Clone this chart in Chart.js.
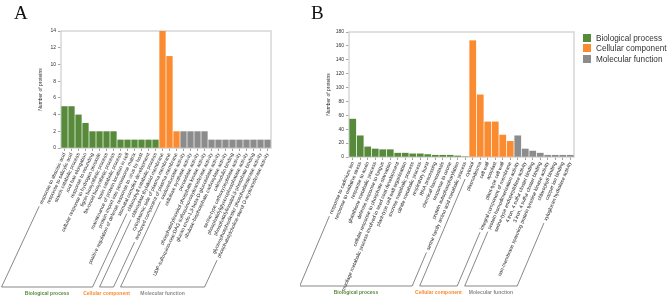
<!DOCTYPE html>
<html>
<head>
<meta charset="utf-8">
<script src="https://cdn.jsdelivr.net/npm/chart.js@4.4.0/dist/chart.umd.min.js"></script>
<style>
  body { margin: 0; background: #fff; font-family: "Liberation Sans", Arial, sans-serif; }
  #page { position: relative; width: 669px; height: 299px; overflow: hidden; }
  canvas { position: absolute; top: 0; }
  #chartA { left: 0; }
  #chartB { left: 300px; }
  .tag { position: absolute; font-family: "Liberation Serif", "Times New Roman", serif; font-size: 19px; line-height: 19px; color: #111; }
  #legend { position: absolute; left: 583px; top: 34px; font-size: 8.2px; color: #333; }
  #legend div { height: 10.3px; line-height: 10px; white-space: nowrap; }
  #legend span { display: inline-block; width: 8px; height: 8px; margin-right: 5px; vertical-align: -1px; }
</style>
</head>
<body>
<div id="page">
  <canvas id="chartA" width="300" height="299"></canvas>
  <canvas id="chartB" width="290" height="299"></canvas>
  <div class="tag" style="left:14px;top:3px">A</div>
  <div class="tag" style="left:311px;top:3px">B</div>
  <div id="legend"></div>
</div>
<script>
// ---- data: panel A ----
const bioLabelsA = ['response to abscisic acid', 'response to salicylic acid', 'starch catabolic process',
  'root hair elongation', 'response to wounding', 'cellular response to hydrogen peroxide',
  'lignin biosynthetic process', 'flavonoid biosynthetic process', 'toxin catabolic process',
  'maintenance of protein location in cell', 'protein import into peroxisome matrix',
  'positive regulation of defense response to virus by host', 'stomatal complex development',
  'chlorophyll catabolic process'];
const bioValuesA = [5, 5, 4, 3, 2, 2, 2, 2, 1, 1, 1, 1, 1, 1];
const ccLabelsA = ['chloroplast thylakoid membrane', 'cytoplasmic side of plasma membrane',
  'anchored component of plasma membrane'];
const ccValuesA = [14, 11, 2];
const mfLabelsA = ['oxidoreductase activity', 'cellulose synthase activity', 'peroxidase activity',
  'phosphatidylinositol phosphate kinase activity',
  'UDP-sulfoquinovose:DAG sulfoquinovosyltransferase activity',
  'glucan endo-1,3-beta-D-glucosidase activity', 'ribulose-bisphosphate carboxylase activity',
  'calmodulin binding', 'serine-type carboxypeptidase activity',
  'phosphatidylglycerophosphatase activity', 'phosphatidylinositol-3-phosphate binding',
  'glycerophosphodiester phosphodiesterase activity', 'phosphatidylcholine-sterol O-acyltransferase activity'];
const mfValuesA = [2, 2, 2, 2, 1, 1, 1, 1, 1, 1, 1, 1, 1];
const yMaxA = 14, yStepA = 2;

// ---- data: panel B ----
const bioLabelsB = ['response to cadmium ion', 'response to oxidative stress', 'response to auxin',
  'glutathione metabolic process', 'defense response to fungus', 'cellular response to phosphate starvation',
  'mucilage metabolic process involved in seed coat development', 'plant-type cell wall organization',
  'sucrose metabolic process', 'citrate metabolic process', 'respiratory burst', 'RNA processing',
  'chemical homeostasis', 'response to ozone', 'protein autophosphorylation',
  'serine family amino acid metabolic process'];
const bioValuesB = [55, 31, 15, 12, 11, 11, 6, 6, 5, 5, 4, 3, 3, 3, 2, 1];
const ccLabelsB = ['cytosol', 'plasmodesma', 'cell wall', 'apoplast', 'plant-type cell wall',
  'integral component of membrane'];
const ccValuesB = [168, 90, 51, 51, 32, 23];
const mfLabelsB = ['protein homodimerization activity', 'serine-type endopeptidase activity',
  '4 iron, 4 sulfur cluster binding', '3 iron, 4 sulfur cluster binding',
  'non-membrane spanning protein tyrosine kinase activity', 'chlorophyll binding',
  'copper ion binding', 'xyloglucan hydrolase activity'];
const mfValuesB = [31, 12, 9, 6, 3, 3, 3, 3];
const yMaxB = 180, yStepB = 20;

const groupNames = ['Biological process', 'Cellular component', 'Molecular function'];
const groupColors = ['#588a3b', '#fb8b30', '#8c8c8c'];
const FONT = '"Liberation Sans", Arial, sans-serif';

// frame around plot area
const framePlugin = {
  id: 'frame',
  beforeDatasetsDraw(chart) {
    const a = chart.chartArea, ctx = chart.ctx;
    ctx.save();
    ctx.strokeStyle = '#d6d6d6';
    ctx.lineWidth = 1.5;
    ctx.strokeRect(a.left, a.top, a.right - a.left, a.bottom - a.top);
    ctx.restore();
  }
};

// bracket lines under the rotated labels + group names
const bracketPlugin = {
  id: 'brackets',
  afterDraw(chart, args, o) {
    const ctx = chart.ctx, xs = chart.scales.x;
    const th = o.angle * Math.PI / 180;
    const dx = -Math.cos(th), dy = Math.sin(th);
    const y0 = chart.chartArea.bottom + o.anchor;
    const tb = (o.base - y0) / dy;
    ctx.save();
    ctx.strokeStyle = '#555';
    ctx.lineWidth = 0.7;
    let idx = 0;
    o.groups.forEach((n, gi) => {
      ctx.font = o.labelFont;
      const ends = [idx, idx + n - 1].map(i => {
        const px = xs.getPixelForValue(i);
        const w = Math.min(ctx.measureText(chart.data.labels[i]).width + o.gap, tb - 2);
        return { top: [px + dx * w, y0 + dy * w], bot: [px + dx * tb, o.base] };
      });
      idx += n;
      ctx.beginPath();
      ctx.moveTo(ends[0].top[0], ends[0].top[1]);
      ctx.lineTo(ends[0].bot[0], ends[0].bot[1]);
      ctx.lineTo(ends[1].bot[0], ends[1].bot[1]);
      ctx.lineTo(ends[1].top[0], ends[1].top[1]);
      ctx.stroke();
      ctx.font = o.groupFont;
      ctx.fillStyle = groupColors[gi];
      ctx.textAlign = 'center';
      ctx.textBaseline = 'middle';
      ctx.fillText(groupNames[gi], (ends[0].bot[0] + ends[1].bot[0]) / 2, o.base + o.textOffset);
    });
    ctx.restore();
  }
};

function makeChart(id, lbls, vals, yMax, yStep, p) {
  const labels = [].concat(...lbls);
  const data = [].concat(...vals);
  const colors = [];
  lbls.forEach((g, gi) => g.forEach(() => colors.push(groupColors[gi])));
  return new Chart(document.getElementById(id), {
    type: 'bar',
    data: {
      labels: labels,
      datasets: [{ data: data, backgroundColor: colors, barPercentage: 0.9, categoryPercentage: 1 }]
    },
    options: {
      responsive: false,
      animation: false,
      layout: { padding: { left: p.padLeft, top: p.top, right: p.padRight, bottom: 0 } },
      plugins: {
        legend: { display: false },
        tooltip: { enabled: false },
        brackets: {
          groups: lbls.map(g => g.length), angle: p.angle, anchor: 4, gap: 4,
          base: p.base, textOffset: p.textOffset,
          labelFont: p.labelSize + 'px ' + FONT, groupFont: 'bold 5px ' + FONT
        }
      },
      scales: {
        x: {
          grid: { drawOnChartArea: false, offset: false, tickLength: 3, color: '#666', lineWidth: 0.6 },
          border: { display: false },
          ticks: { autoSkip: false, minRotation: p.angle, maxRotation: p.angle, padding: 1, color: '#222',
                   font: { size: p.labelSize, family: FONT } },
          afterFit: s => { s.height = 299 - p.bottom; s.paddingLeft = 0; s.paddingRight = 0; }
        },
        y: {
          min: 0, max: yMax,
          grid: { drawOnChartArea: false, tickLength: 3, color: '#666', lineWidth: 0.6 },
          border: { display: false },
          ticks: { stepSize: yStep, padding: 2, color: '#333', font: { size: 5, family: FONT } },
          title: { display: true, text: 'Number of proteins', color: '#333', padding: 0,
                   font: { size: 5, family: FONT } },
          afterFit: s => { s.width = p.left - p.padLeft; }
        }
      }
    },
    plugins: [framePlugin, bracketPlugin]
  });
}

makeChart('chartA', [bioLabelsA, ccLabelsA, mfLabelsA], [bioValuesA, ccValuesA, mfValuesA], yMaxA, yStepA,
  { left: 61, padLeft: 38, top: 31, bottom: 148, padRight: 300 - 271, labelSize: 5, angle: 65,
    base: 287, textOffset: 7 });
makeChart('chartB', [bioLabelsB, ccLabelsB, mfLabelsB], [bioValuesB, ccValuesB, mfValuesB], yMaxB, yStepB,
  { left: 49, padLeft: 26, top: 32, bottom: 157, padRight: 290 - 274, labelSize: 5, angle: 67,
    base: 286, textOffset: 7 });

// legend for panel B
const legend = document.getElementById('legend');
groupNames.forEach((name, i) => {
  const row = document.createElement('div');
  row.innerHTML = '<span style="background:' + groupColors[i] + '"></span>' + name;
  legend.appendChild(row);
});
</script>
</body>
</html>
